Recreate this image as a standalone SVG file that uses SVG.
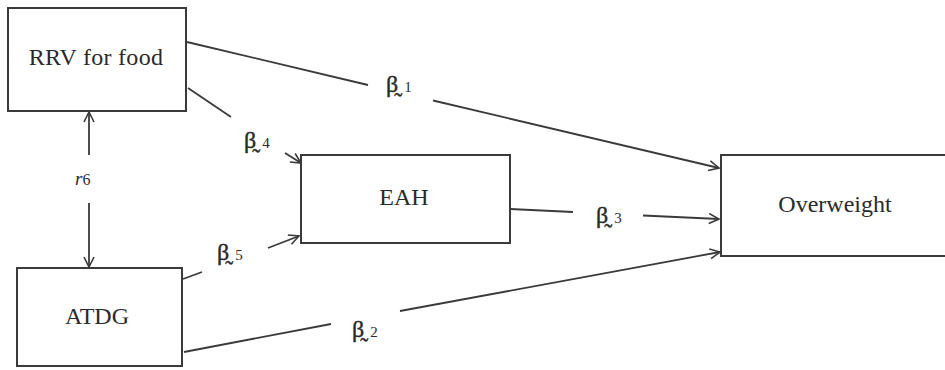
<svg xmlns="http://www.w3.org/2000/svg" width="945" height="370" viewBox="0 0 945 370">
  <style>
    .box { fill: #ffffff; stroke: #3a3a3a; stroke-width: 2; }
    .name { font-family: "Liberation Serif", "DejaVu Serif", serif; font-size: 24px; fill: #2a2a2a; text-anchor: middle; }
    .edge { stroke: #3a3a3a; stroke-width: 1.8; fill: none; }
    .beta { font-family: "Liberation Serif", "DejaVu Serif", serif; font-size: 24px; fill: #2a2a2a; stroke: #2a2a2a; stroke-width: 0.4; }
    .idx { font-size: 15px; stroke-width: 0; }
    .r6 { font-family: "Liberation Serif", "DejaVu Serif", serif; font-size: 19px; fill: #2e2e2e; }
  </style>
  <defs>
    <marker id="arrow" viewBox="0 0 12 12" refX="11" refY="6" markerWidth="12" markerHeight="12" markerUnits="userSpaceOnUse" orient="auto">
      <path d="M1,1 L11,6 L1,11" fill="none" stroke="#3a3a3a" stroke-width="1.6"/>
    </marker>
  </defs>
  <rect width="945" height="370" fill="#ffffff"/>

  <g id="connectors">
    <!-- beta1: RRV for food -> Overweight -->
    <line class="edge" x1="187" y1="42" x2="368" y2="85"/>
    <line class="edge" x1="433" y1="100.5" x2="719" y2="168" marker-end="url(#arrow)"/>
    <!-- beta4: RRV for food -> EAH -->
    <line class="edge" x1="188" y1="88" x2="231" y2="117"/>
    <line class="edge" x1="285" y1="153" x2="301" y2="163" marker-end="url(#arrow)"/>
    <!-- beta5: ATDG -> EAH -->
    <line class="edge" x1="183" y1="279" x2="202" y2="272"/>
    <line class="edge" x1="268" y1="248" x2="299" y2="236" marker-end="url(#arrow)"/>
    <!-- beta3: EAH -> Overweight -->
    <line class="edge" x1="510" y1="209" x2="573" y2="212"/>
    <line class="edge" x1="643" y1="215.5" x2="719" y2="219" marker-end="url(#arrow)"/>
    <!-- beta2: ATDG -> Overweight -->
    <line class="edge" x1="184" y1="352" x2="331" y2="324"/>
    <line class="edge" x1="400" y1="311" x2="720" y2="252" marker-end="url(#arrow)"/>
    <!-- r6: correlation between RRV for food and ATDG -->
    <line class="edge" x1="89" y1="155" x2="89" y2="112" marker-end="url(#arrow)"/>
    <line class="edge" x1="89" y1="203" x2="89" y2="267" marker-end="url(#arrow)"/>

    <text class="beta" x="386" y="92">β̰<tspan class="idx" dx="6">1</tspan></text>
    <text class="beta" x="244" y="148">β̰<tspan class="idx" dx="6">4</tspan></text>
    <text class="beta" x="217" y="260">β̰<tspan class="idx" dx="6">5</tspan></text>
    <text class="beta" x="596" y="223">β̰<tspan class="idx" dx="6">3</tspan></text>
    <text class="beta" x="352" y="337">β̰<tspan class="idx" dx="6">2</tspan></text>
    <text class="r6" x="75" y="185"><tspan font-style="italic">r</tspan><tspan font-size="16px">6</tspan></text>
  </g>

  <g id="node-rrv">
    <rect class="box" x="8" y="8" width="178" height="103"/>
    <text class="name" x="96" y="65" letter-spacing="0.3">RRV for food</text>
  </g>
  <g id="node-atdg">
    <rect class="box" x="17" y="268" width="165" height="98"/>
    <text class="name" x="97" y="324">ATDG</text>
  </g>
  <g id="node-eah">
    <rect class="box" x="301" y="155" width="209" height="88"/>
    <text class="name" x="404" y="205">EAH</text>
  </g>
  <g id="node-overweight">
    <rect class="box" x="721" y="155" width="230" height="101"/>
    <text class="name" x="835" y="212">Overweight</text>
  </g>
</svg>
